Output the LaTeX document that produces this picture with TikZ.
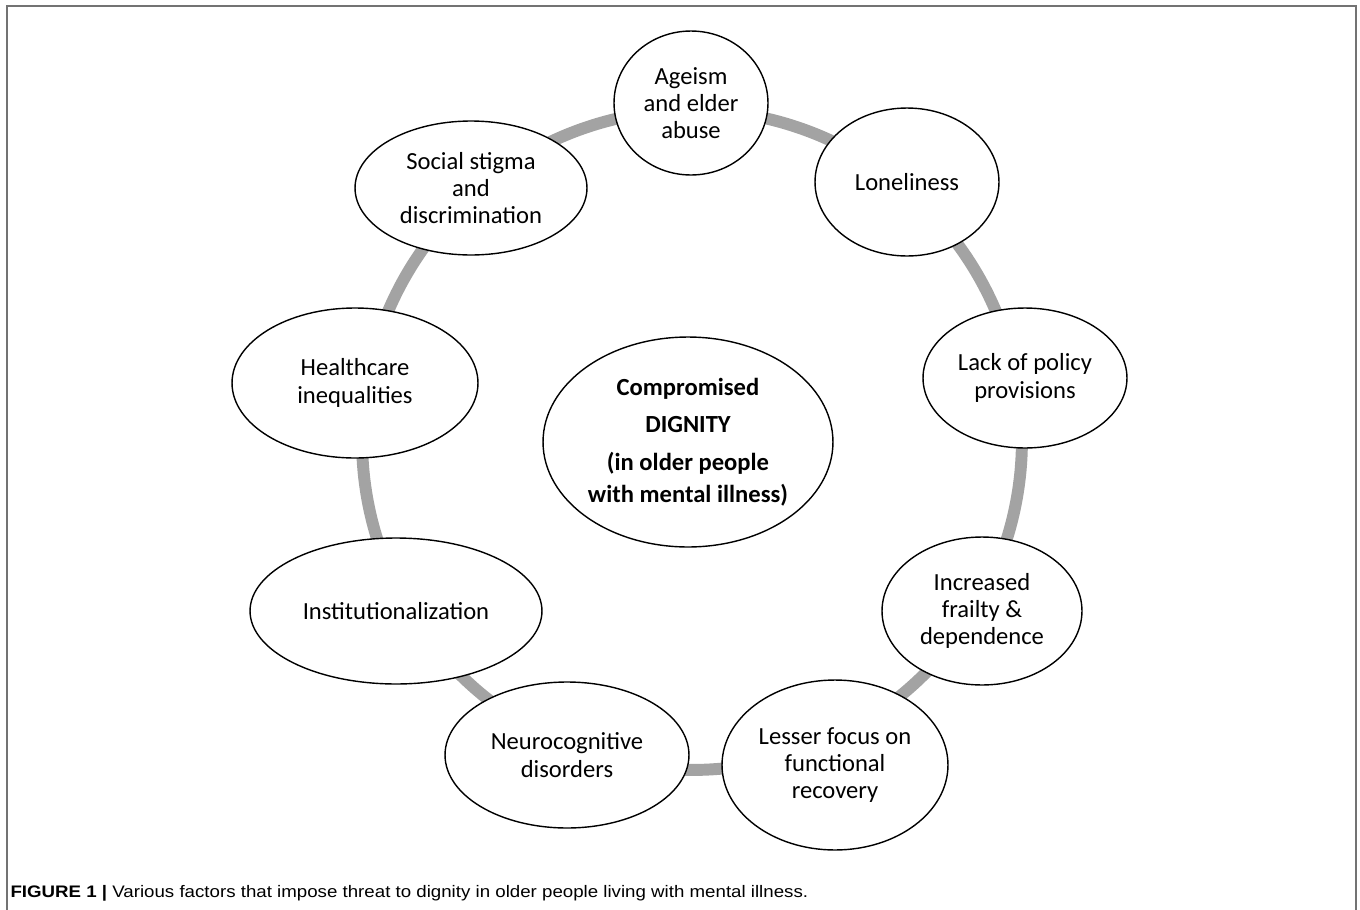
\documentclass[tikz,border=0pt]{standalone}
\usepackage{fontspec}
\setmainfont{Carlito}
\newfontfamily\capfont[FakeStretch=1.12]{Liberation Sans}
\usepackage{tikz}
\usetikzlibrary{shapes.geometric}

\begin{document}
\begin{tikzpicture}[x=0.02cm,y=-0.02cm,semithick]
\tikzstyle{factor}=[ellipse,draw=black,fill=white,text=black,line width=0.8pt,inner sep=0pt,align=center,font=\fontsize{14}{15.5}\selectfont]
\tikzstyle{ring}=[line width=6.8pt,draw=black!36]
\useasboundingbox (0,0) rectangle (1360,910);
\draw[black!55,line width=1.1pt] (7,910) -- (7,6) -- (1356,6) -- (1356,910);
\draw[ring] (692,440) circle[radius=6.6cm];
\node[factor,minimum width=3.08cm,minimum height=2.88cm] (ageism) at (691,103) {Ageism\\and elder\\abuse};
\node[factor,minimum width=3.68cm,minimum height=2.96cm] (lonely) at (907,182) {Loneliness};
\node[factor,minimum width=4.08cm,minimum height=2.8cm] (policy) at (1025,378) {Lack of policy\\provisions};
\node[factor,minimum width=4.0cm,minimum height=2.96cm] (frail) at (982,611) {Increased\\frailty \&\\dependence};
\node[factor,minimum width=4.52cm,minimum height=3.4cm] (lesser) at (835,765) {Lesser focus on\\functional\\recovery};
\node[factor,minimum width=4.88cm,minimum height=2.92cm] (neuro) at (567,755) {Neurocognitive\\disorders};
\node[factor,minimum width=5.84cm,minimum height=2.92cm] (inst) at (396,611) {Institutionalization};
\node[factor,minimum width=4.92cm,minimum height=3.0cm] (health) at (355,383) {Healthcare\\inequalities};
\node[factor,minimum width=4.64cm,minimum height=2.68cm] (stigma) at (471,188) {Social stigma\\and\\discrimination};
\node[factor,minimum width=5.8cm,minimum height=4.2cm,font=\fontsize{14}{21}\bfseries] (dignity) at (688,442) {Compromised\\DIGNITY\\[1pt](in older people\\[-3pt]with mental illness)};
\node[anchor=base west,inner sep=0pt,font=\capfont\fontsize{9.5}{11}\selectfont] (caption) at (10,897) {\textbf{FIGURE 1 |} Various factors that impose threat to dignity in older people living with mental illness.};
\end{tikzpicture}
\end{document}
